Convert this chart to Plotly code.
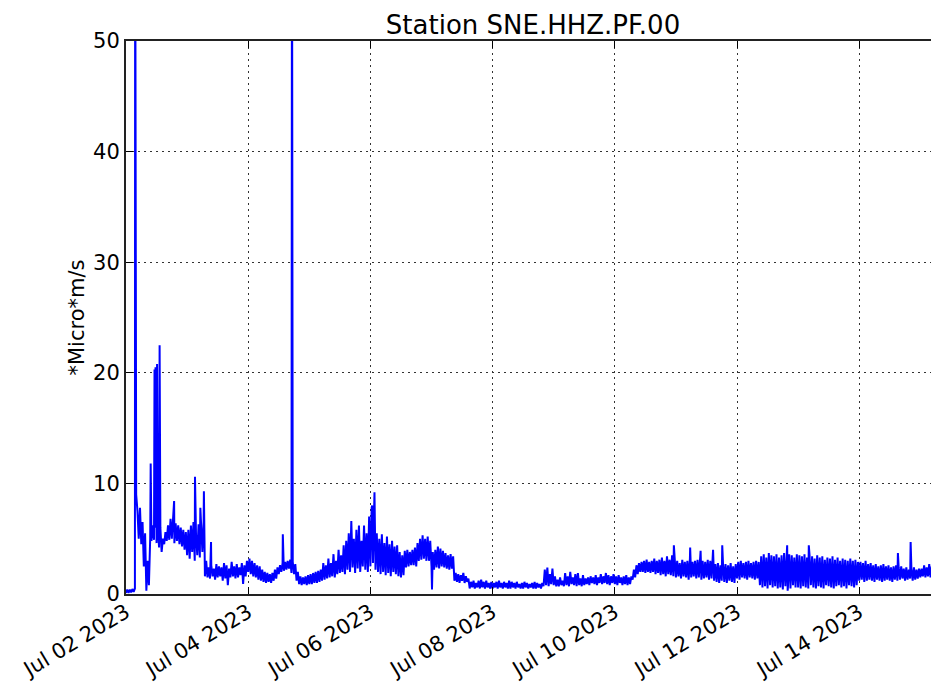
import pandas as pd
import plotly.graph_objects as go

# ---- data (hourly envelope, hours since Jul 02 2023 00:00) ----
env_low = [
    # Jul 02
    0.1, 0.1, 0.15, 0.2, 9.0, 5.0, 4.5, 2.5, 0.3, 0.8, 4.8, 4.9, 4.6, 4.2, 3.8, 4.5, 4.8, 4.9, 5.0, 4.6, 4.8, 4.5, 4.3, 4.0,
    # Jul 03
    3.5, 3.2, 3.8, 3.0, 3.5, 3.3, 3.8, 1.6, 1.5, 1.4, 1.6, 1.3, 1.5, 1.6, 1.2, 1.4, 0.8, 1.5, 1.6, 1.4, 1.5, 1.7, 0.9, 1.6,
    # Jul 04
    2.0, 1.8, 1.6, 1.5, 1.3, 1.2, 1.1, 1.0, 1.1, 1.0, 1.2, 1.4, 1.8, 2.0, 2.1, 2.2, 2.3, 1.9, 1.8, 1.2, 0.9, 0.8, 0.9, 0.8,
    # Jul 05
    0.9, 0.9, 1.0, 1.0, 1.1, 1.2, 1.3, 1.4, 1.5, 1.6, 1.5, 1.8, 1.9, 2.0, 1.8, 2.2, 2.0, 2.4, 1.9, 2.3, 2.0, 2.5, 2.2, 2.0,
    # Jul 06
    2.5, 2.8, 2.2, 2.0, 1.8, 2.0, 1.7, 1.9, 1.6, 2.0, 1.8, 1.6, 1.5, 1.7, 2.4, 2.5, 2.6, 2.6, 2.5, 3.0, 3.1, 3.2, 3.0, 3.0,
    # Jul 07
    2.5, 2.2, 2.4, 2.3, 2.5, 2.4, 2.3, 2.2, 2.3, 1.2, 1.1, 1.0, 1.2, 1.0, 1.1, 0.5, 0.6, 0.5, 0.6, 0.5, 0.6, 0.5, 0.6, 0.5,
    # Jul 08
    0.5, 0.6, 0.5, 0.6, 0.5, 0.6, 0.5, 0.5, 0.6, 0.5, 0.6, 0.5, 0.5, 0.6, 0.5, 0.6, 0.5, 0.5, 0.6, 0.5, 0.7, 0.8, 0.7, 0.9,
    # Jul 09
    0.8, 0.7, 0.7, 0.8, 0.7, 0.8, 0.7, 0.9, 0.8, 0.7, 0.8, 0.7, 0.8, 0.9, 0.8, 1.0, 0.9, 0.8, 1.0, 0.9, 1.0, 0.9, 0.8, 1.0,
    # Jul 10
    0.9, 0.8, 1.0, 0.8, 0.9, 0.8, 0.9, 1.3, 1.5, 1.8, 2.0, 2.0, 1.9, 2.0, 1.9, 2.0, 1.8, 1.9, 1.7, 1.8, 1.6, 1.8, 1.7, 1.6,
    # Jul 11
    1.5, 1.6, 1.4, 1.6, 1.5, 1.3, 1.5, 1.6, 1.4, 1.5, 1.3, 1.4, 1.5, 1.3, 1.4, 1.2, 1.1, 1.0, 1.2, 1.1, 1.0, 1.2, 1.1, 1.0,
    # Jul 12
    1.4, 1.3, 1.5, 1.4, 1.3, 1.5, 1.4, 1.3, 1.4, 0.8, 0.6, 0.7, 0.5, 0.8, 0.6, 0.7, 0.5, 0.6, 0.4, 0.7, 0.6, 0.5, 0.8, 0.6,
    # Jul 13
    0.6, 0.5, 0.7, 0.6, 0.5, 0.8, 0.6, 0.5, 0.7, 0.6, 0.5, 0.8, 0.7, 0.6, 0.5, 0.7, 0.8, 0.6, 0.7, 0.5, 0.8, 0.7, 0.6, 0.8,
    # Jul 14
    1.2, 1.3, 1.1, 1.2, 1.3, 1.2, 1.1, 1.3, 1.2, 1.1, 1.2, 1.3, 1.2, 1.1, 1.3, 1.2, 1.3, 1.4, 1.2, 1.3, 1.4, 1.2, 1.3, 1.4,
    # Jul 15
    1.5, 1.6, 1.5, 1.6, 1.5,
]

env_high = [
    # Jul 02
    0.4, 0.4, 0.45, 0.5, 7.5, 7.8, 6.5, 5.5, 3.0, 5.0, 6.2, 6.0, 5.8, 6.0, 5.0, 5.6, 6.2, 6.8, 6.5, 6.4, 6.2, 6.0, 5.8, 5.6,
    # Jul 03
    5.8, 6.2, 6.5, 5.4, 6.3, 5.7, 6.6, 3.0, 2.4, 2.6, 2.3, 2.7, 2.5, 2.4, 2.8, 2.6, 2.3, 2.9, 2.5, 2.7, 2.4, 2.8, 2.6, 3.0,
    # Jul 04
    3.2, 3.0, 2.8, 2.6, 2.5, 2.2, 2.0, 1.9, 1.8, 1.9, 2.2, 2.4, 2.6, 2.8, 2.9, 3.0, 3.1, 2.9, 2.7, 2.0, 1.6, 1.5, 1.6, 1.7,
    # Jul 05
    1.8, 1.9, 2.0, 2.1, 2.2, 2.8, 2.6, 3.2, 2.8, 3.6, 3.0, 4.0, 3.5, 4.4, 4.8, 5.5, 6.6, 5.0, 5.8, 6.2, 4.8, 6.2, 5.5, 7.0,
    # Jul 06
    7.8, 6.5, 5.5, 5.0, 5.4, 4.6, 5.2, 4.5, 4.8, 4.3, 4.4, 3.8, 3.5, 3.9, 4.0, 3.8, 4.0, 4.2, 4.6, 5.0, 5.3, 5.0, 5.2, 4.8,
    # Jul 07
    3.8, 4.0, 4.3, 4.1, 3.9, 3.7, 3.5, 3.6, 3.4, 1.9, 1.8, 1.7, 1.9, 1.6, 1.4, 1.1, 1.2, 1.0, 1.2, 1.3, 1.1, 1.2, 1.0, 1.1,
    # Jul 08
    1.0, 1.1, 1.2, 1.0, 1.1, 1.0, 1.2, 1.1, 1.0, 1.1, 0.9, 1.0, 1.1, 1.0, 0.9, 1.0, 1.1, 1.0, 0.9, 1.0, 2.2, 2.4, 1.8, 2.3,
    # Jul 09
    1.6, 1.3, 1.5, 1.2, 1.9, 1.6, 2.0, 1.5, 1.8, 1.9, 1.4, 1.7, 1.4, 1.5, 1.6, 1.5, 1.7, 1.5, 1.8, 1.6, 1.9, 1.7, 1.6, 1.8,
    # Jul 10
    1.6, 1.7, 1.5, 1.6, 1.7, 1.5, 1.6, 2.2, 2.6, 2.8, 2.9, 3.0, 3.1, 2.9, 3.0, 3.2, 3.0, 3.1, 3.3, 3.0, 3.4, 3.1, 3.5, 3.0,
    # Jul 11
    3.0, 2.8, 3.1, 2.9, 3.0, 3.2, 2.9, 3.0, 3.1, 2.8, 3.0, 2.9, 3.1, 3.0, 2.9, 2.7, 2.8, 2.6, 2.8, 2.7, 2.6, 2.8, 2.5, 2.7,
    # Jul 12
    2.9, 3.0, 2.8, 2.9, 3.0, 2.8, 2.9, 3.0, 2.9, 3.4, 3.6, 3.3, 3.7, 3.5, 3.4, 3.6, 3.3, 3.5, 3.7, 3.4, 3.6, 3.5, 3.3, 3.6,
    # Jul 13
    3.5, 3.4, 3.6, 3.3, 3.5, 3.4, 3.2, 3.5, 3.3, 3.4, 3.1, 3.3, 3.2, 3.4, 3.1, 3.3, 3.0, 3.2, 3.1, 3.0, 3.2, 3.0, 3.1, 2.9,
    # Jul 14
    2.9, 2.8, 3.0, 2.7, 2.8, 2.6, 2.7, 2.5, 2.6, 2.7, 2.5, 2.6, 2.4, 2.5, 2.6, 2.4, 2.5, 2.3, 2.4, 2.2, 2.3, 2.4, 2.2, 2.3,
    # Jul 15
    2.3, 2.6, 2.4, 2.7, 2.5,
]

# isolated spikes / dips (hours since start, value)
spike_hours = [3.6, 3.7, 3.8, 3.9, 9.7, 11.2, 11.6, 12.2, 13.2, 18.9, 27.1, 29.2, 30.6, 33.4,
               61.6, 65.2, 96.7, 97.6, 120.2, 215.2, 221.6, 225.7, 230.6, 234.2,
               259.7, 259.9, 268.2, 303.2, 308.2]
spike_values = [65.0, 17.0, 48.0, 16.5, 11.8, 20.3, 20.5, 20.8, 22.5, 8.4, 10.6, 7.8, 9.3, 4.7,
                5.4, 65.0, 8.0, 9.2, 0.4, 4.4, 4.2, 3.9, 4.0, 4.4,
                4.4, 0.3, 4.4, 3.7, 4.7]

start = pd.Timestamp("2023-07-02 00:00")
x_end_hours = 316.2
tick_dates = ["2023-07-02", "2023-07-04", "2023-07-06", "2023-07-08",
              "2023-07-10", "2023-07-12", "2023-07-14"]
tick_labels = ["Jul 02 2023", "Jul 04 2023", "Jul 06 2023", "Jul 08 2023",
               "Jul 10 2023", "Jul 12 2023", "Jul 14 2023"]
y_ticks = [0, 10, 20, 30, 40, 50]

# ---- build series ----
pts = []
for h, (lo, hi) in enumerate(zip(env_low, env_high)):
    pts.append((h, lo))
    pts.append((h + 0.5, hi))
pts += list(zip(spike_hours, spike_values))
pts.sort(key=lambda p: p[0])
df = pd.DataFrame(pts, columns=["hours", "value"])
df["time"] = start + pd.to_timedelta(df["hours"], unit="h")

fig = go.Figure()
fig.add_trace(go.Scatter(
    x=df["time"], y=df["value"], mode="lines",
    line=dict(color="#0000ff", width=2),
    showlegend=False, hoverinfo="skip",
))

font_family = "DejaVu Sans"
fig.update_layout(
    width=931, height=682,
    margin=dict(l=126, r=0, t=41, b=88, autoexpand=False),
    paper_bgcolor="white", plot_bgcolor="white",
    font=dict(family=font_family, color="black", size=21),
    title=dict(text="Station SNE.HHZ.PF.00", font=dict(size=26, family=font_family, color="black"),
               x=0.5056, xref="paper", xanchor="center",
               y=1 - 25 / 682, yref="container", yanchor="middle", automargin=False),
)
fig.update_xaxes(
    type="date", automargin=False,
    range=[start, start + pd.Timedelta(hours=x_end_hours)],
    tickvals=pd.to_datetime(tick_dates), ticktext=tick_labels,
    tickangle=-31, tickfont=dict(size=21), ticklabelstandoff=-4,
    ticks="inside", ticklen=7, tickwidth=1.2, tickcolor="black",
    showline=True, linecolor="#222222", linewidth=2, mirror="ticks",
    showgrid=True, gridcolor="#333333", gridwidth=1, griddash="2px,4px",
    zeroline=False,
)
fig.update_yaxes(
    range=[0, 50], tickvals=y_ticks, automargin=False,
    tickfont=dict(size=21),
    ticks="inside", ticklen=7, tickwidth=1.2, tickcolor="black",
    showline=True, linecolor="#222222", linewidth=2, mirror=False,
    showgrid=True, gridcolor="#333333", gridwidth=1, griddash="2px,4px",
    zeroline=False,
    title=dict(text="*Micro*m/s", font=dict(size=21), standoff=3),
)

fig.write_html(
    "out.html",
    config={"displayModeBar": False},
    post_script="document.body.style.margin='0';document.body.style.overflow='hidden';",
)
